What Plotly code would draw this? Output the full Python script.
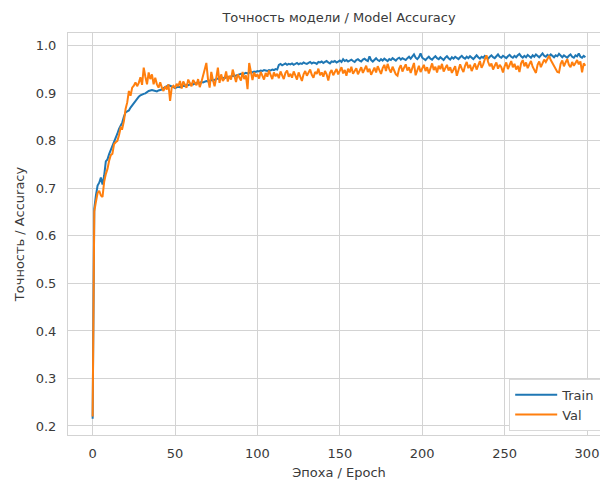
import plotly.graph_objects as go

epochs = list(range(300))

train_acc = [
    0.215, 0.657, 0.685, 0.706, 0.712, 0.723, 0.708, 0.727, 0.757, 0.761,
    0.772, 0.780, 0.790, 0.797, 0.804, 0.815, 0.825, 0.832, 0.839, 0.851,
    0.860, 0.862, 0.864, 0.870, 0.875, 0.880, 0.884, 0.889, 0.893, 0.896,
    0.898, 0.899, 0.900, 0.903, 0.905, 0.906, 0.907, 0.906, 0.905, 0.904,
    0.906, 0.907, 0.908, 0.911, 0.913, 0.915, 0.917, 0.916, 0.915, 0.913,
    0.911, 0.912, 0.914, 0.913, 0.915, 0.916, 0.915, 0.918, 0.917, 0.919,
    0.920, 0.919, 0.921, 0.922, 0.921, 0.923, 0.924, 0.923, 0.925, 0.926,
    0.925, 0.927, 0.928, 0.927, 0.929, 0.930, 0.931, 0.930, 0.932, 0.933,
    0.932, 0.934, 0.935, 0.934, 0.936, 0.937, 0.936, 0.938, 0.939, 0.940,
    0.941, 0.940, 0.942, 0.943, 0.942, 0.944, 0.945, 0.944, 0.946, 0.945,
    0.947, 0.946, 0.948, 0.947, 0.949, 0.948, 0.947, 0.949, 0.948, 0.950,
    0.949, 0.951, 0.950, 0.960, 0.962, 0.959, 0.961, 0.963, 0.960, 0.962,
    0.961, 0.963, 0.960, 0.962, 0.964, 0.961, 0.963, 0.962, 0.965, 0.963,
    0.962, 0.964, 0.966, 0.963, 0.965, 0.964, 0.962, 0.966, 0.965, 0.967,
    0.964, 0.966, 0.968, 0.965, 0.963, 0.967, 0.966, 0.968, 0.965, 0.967,
    0.969, 0.966, 0.972, 0.968, 0.970, 0.967, 0.969, 0.971, 0.968, 0.966,
    0.970, 0.972, 0.969, 0.967, 0.971, 0.973, 0.970, 0.968, 0.978, 0.970,
    0.967, 0.971, 0.974, 0.970, 0.968, 0.972, 0.969, 0.973, 0.971, 0.968,
    0.972, 0.970, 0.974, 0.971, 0.969, 0.973, 0.975, 0.971, 0.974, 0.972,
    0.970, 0.974, 0.977, 0.973, 0.979, 0.982, 0.975, 0.972, 0.976, 0.984,
    0.975, 0.972, 0.970, 0.974, 0.977, 0.973, 0.971, 0.975, 0.978, 0.974,
    0.972, 0.976, 0.973, 0.970, 0.975, 0.978, 0.974, 0.971, 0.976, 0.973,
    0.977, 0.974, 0.972, 0.976, 0.979, 0.975, 0.973, 0.977, 0.974, 0.978,
    0.975, 0.972, 0.976, 0.980, 0.976, 0.973, 0.977, 0.975, 0.979, 0.976,
    0.973, 0.977, 0.980, 0.976, 0.974, 0.978, 0.982, 0.977, 0.975, 0.979,
    0.976, 0.974, 0.978, 0.981, 0.977, 0.975, 0.979, 0.976, 0.980, 0.983,
    0.978, 0.975, 0.979, 0.976, 0.981, 0.978, 0.975, 0.980, 0.977, 0.982,
    0.978, 0.976, 0.980, 0.984, 0.979, 0.977, 0.981, 0.978, 0.982, 0.979,
    0.976, 0.980, 0.978, 0.983, 0.979, 0.976, 0.980, 0.977, 0.975, 0.979,
    0.982, 0.977, 0.975, 0.980, 0.978, 0.984, 0.977, 0.975, 0.979, 0.976,
]

val_acc = [
    0.220, 0.651, 0.672, 0.690, 0.695, 0.685, 0.682, 0.714, 0.730, 0.741,
    0.758, 0.770, 0.773, 0.793, 0.797, 0.800, 0.812, 0.828, 0.826, 0.842,
    0.867, 0.881, 0.905, 0.895, 0.912, 0.916, 0.923, 0.915, 0.922, 0.934,
    0.918, 0.954, 0.935, 0.919, 0.944, 0.930, 0.940, 0.919, 0.933, 0.919,
    0.912, 0.923, 0.912, 0.905, 0.915, 0.908, 0.919, 0.884, 0.912, 0.916,
    0.912, 0.920, 0.915, 0.926, 0.910, 0.925, 0.918, 0.912, 0.929, 0.920,
    0.915, 0.928, 0.921, 0.917, 0.930, 0.913, 0.924, 0.935, 0.950, 0.964,
    0.930, 0.912, 0.945, 0.928, 0.915, 0.932, 0.954, 0.922, 0.940, 0.926,
    0.931, 0.946, 0.925, 0.937, 0.929, 0.950, 0.935, 0.924, 0.940, 0.933,
    0.927, 0.945, 0.930, 0.938, 0.909, 0.964, 0.941, 0.928, 0.944, 0.935,
    0.940, 0.931, 0.945, 0.937, 0.929, 0.943, 0.935, 0.948, 0.938, 0.930,
    0.944, 0.936, 0.941, 0.932, 0.946, 0.939, 0.930, 0.943, 0.948, 0.935,
    0.941, 0.933, 0.946, 0.938, 0.929, 0.944, 0.936, 0.926, 0.940, 0.947,
    0.937, 0.943, 0.950, 0.939, 0.933, 0.945, 0.941, 0.952, 0.938, 0.944,
    0.935, 0.947, 0.940, 0.927, 0.943, 0.949, 0.938, 0.945, 0.951, 0.940,
    0.946, 0.955, 0.942, 0.949, 0.937, 0.952, 0.944, 0.956, 0.941, 0.948,
    0.953, 0.940, 0.947, 0.955, 0.943, 0.950, 0.958, 0.945, 0.952, 0.939,
    0.948, 0.954, 0.944, 0.957, 0.949, 0.941, 0.953, 0.960, 0.947, 0.962,
    0.951, 0.944, 0.956, 0.948, 0.940, 0.937, 0.952, 0.959, 0.946, 0.954,
    0.961, 0.948, 0.955, 0.943, 0.952, 0.964, 0.938, 0.950, 0.958, 0.945,
    0.953, 0.960, 0.947, 0.955, 0.942, 0.951, 0.963, 0.949, 0.956, 0.944,
    0.958, 0.951, 0.962, 0.946, 0.954, 0.960, 0.948, 0.955, 0.943, 0.950,
    0.957, 0.937, 0.949, 0.961, 0.952, 0.945, 0.958, 0.966, 0.953, 0.960,
    0.947, 0.955, 0.963, 0.950, 0.958, 0.968, 0.954, 0.961, 0.972, 0.980,
    0.966, 0.957, 0.963, 0.950, 0.958, 0.965, 0.952, 0.960, 0.955, 0.944,
    0.957, 0.965, 0.951, 0.960, 0.968, 0.955, 0.962, 0.950, 0.958, 0.945,
    0.963, 0.970, 0.957, 0.965, 0.953, 0.961, 0.968, 0.956, 0.948, 0.943,
    0.960, 0.967, 0.955, 0.963, 0.971, 0.966, 0.974, 0.979, 0.970, 0.964,
    0.958, 0.950, 0.945, 0.944, 0.962, 0.969, 0.957, 0.965, 0.972, 0.960,
    0.955, 0.966, 0.958, 0.964, 0.970, 0.961, 0.967, 0.944, 0.963, 0.958,
]

x_ticks = [0, 50, 100, 150, 200, 250, 300]
y_ticks = [0.2, 0.3, 0.4, 0.5, 0.6, 0.7, 0.8, 0.9, 1.0]
y_tick_text = ["0.2", "0.3", "0.4", "0.5", "0.6", "0.7", "0.8", "0.9", "1.0"]

FONT = "DejaVu Sans"
TXT = "#3a3a3a"
GRID = "#d3d3d3"

fig = go.Figure()
fig.add_trace(go.Scatter(x=epochs, y=train_acc, mode="lines", name="Train",
                         line=dict(color="#1f77b4", width=2)))
fig.add_trace(go.Scatter(x=epochs, y=val_acc, mode="lines", name="Val",
                         line=dict(color="#ff7f0e", width=2)))

fig.update_layout(
    width=620, height=487,
    margin=dict(l=68, r=9, t=33, b=50),
    paper_bgcolor="white", plot_bgcolor="white",
    font=dict(family=FONT, size=13, color=TXT),
    title=dict(text="Точность модели / Model Accuracy", x=0.5, xref="paper",
               xanchor="center", y=1 - 17 / 487, yref="container", yanchor="middle",
               font=dict(family=FONT, size=13, color=TXT)),
    legend=dict(x=0.814, y=0.140, xanchor="left", yanchor="top",
                bgcolor="white", bordercolor="#d9d9d9", borderwidth=1,
                font=dict(family=FONT, size=13, color=TXT),
                itemwidth=42, tracegroupgap=2),
    showlegend=True,
)
fig.update_xaxes(range=[-14.95, 313.95], tickvals=x_ticks, ticktext=[str(v) for v in x_ticks],
                 showgrid=True, gridcolor=GRID, gridwidth=1, zeroline=False,
                 showline=True, linecolor=GRID, linewidth=1, mirror=True,
                 ticks="", ticklabelstandoff=6,
                 title=dict(text="Эпоха / Epoch", standoff=8,
                            font=dict(family=FONT, size=13, color=TXT)))
fig.update_yaxes(range=[0.181, 1.027], tickvals=y_ticks, ticktext=y_tick_text,
                 showgrid=True, gridcolor=GRID, gridwidth=1, zeroline=False,
                 showline=True, linecolor=GRID, linewidth=1, mirror=True,
                 ticks="", ticklabelstandoff=8,
                 title=dict(text="Точность / Accuracy", standoff=8,
                            font=dict(family=FONT, size=13, color=TXT)))

fig.write_html("out.html", config={"displayModeBar": False},
               post_script="document.body.style.overflow='hidden';document.body.style.margin='0';")
